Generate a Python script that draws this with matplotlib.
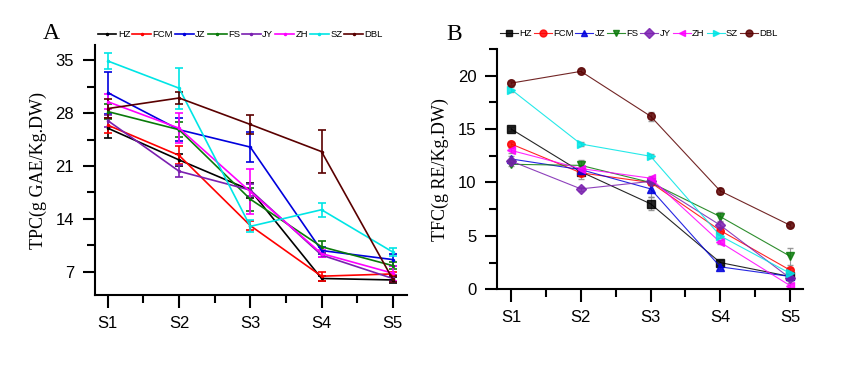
import matplotlib
matplotlib.use("Agg")
import matplotlib.pyplot as plt
from matplotlib.lines import Line2D
import numpy as np

# stages and cultivars
stages = ["S1", "S2", "S3", "S4", "S5"]
names = ["HZ", "FCM", "JZ", "FS", "JY", "ZH", "SZ", "DBL"]
colors = ["#000000", "#ff0000", "#0000dd", "#0a7a0a", "#7a1fb0", "#ff00ff", "#00e5e5", "#5a0000"]
markers_b = ["s", "o", "^", "v", "D", "<", ">", "o"]

# A: TPC (g GAE/Kg.DW)
tpc = {
    "HZ":  [26.0, 21.8, 17.8, 6.1, 5.9],
    "FCM": [26.4, 22.4, 13.1, 6.4, 6.7],
    "JZ":  [30.7, 25.8, 23.5, 9.8, 8.6],
    "FS":  [28.2, 25.8, 16.6, 10.3, 7.8],
    "JY":  [27.0, 20.3, 17.8, 9.2, 6.1],
    "ZH":  [29.5, 26.0, 17.6, 9.4, 6.8],
    "SZ":  [34.9, 31.3, 13.0, 15.2, 9.6],
    "DBL": [28.6, 30.0, 26.5, 22.9, 6.0],
}
tpc_err = {
    "HZ":  [1.3, 0.8, 1.0, 0.3, 0.4],
    "FCM": [1.0, 1.2, 0.6, 0.6, 0.3],
    "JZ":  [2.8, 1.5, 2.0, 0.5, 0.8],
    "FS":  [1.0, 1.0, 1.5, 0.8, 0.5],
    "JY":  [0.8, 0.8, 0.8, 0.3, 0.5],
    "ZH":  [1.0, 2.0, 3.0, 0.5, 1.0],
    "SZ":  [1.0, 2.7, 0.8, 0.9, 0.5],
    "DBL": [1.3, 0.8, 1.3, 2.8, 0.4],
}

# B: TFC (g RE/Kg.DW)
tfc = {
    "HZ":  [15.0, 11.0, 8.0, 2.5, 1.2],
    "FCM": [13.6, 10.9, 10.0, 5.5, 1.8],
    "JZ":  [12.2, 11.2, 9.4, 2.1, 1.2],
    "FS":  [11.7, 11.6, 10.0, 6.8, 3.1],
    "JY":  [12.0, 9.4, 10.1, 6.0, 1.05],
    "ZH":  [13.0, 11.3, 10.4, 4.4, 0.35],
    "SZ":  [18.7, 13.6, 12.45, 5.0, 1.5],
    "DBL": [19.3, 20.4, 16.2, 9.2, 6.0],
}
tfc_err = {
    "HZ":  [0.2, 0.3, 0.6, 0.2, 0.1],
    "FCM": [0.2, 0.6, 0.2, 0.3, 0.2],
    "JZ":  [0.3, 0.2, 0.8, 0.2, 0.1],
    "FS":  [0.2, 0.5, 0.2, 0.4, 0.8],
    "JY":  [0.2, 0.2, 0.2, 0.3, 0.2],
    "ZH":  [0.2, 0.2, 0.2, 0.2, 0.2],
    "SZ":  [0.2, 0.2, 0.2, 0.2, 0.2],
    "DBL": [0.2, 0.2, 0.4, 0.3, 0.2],
}

x = np.arange(1, 6)

fig = plt.figure(figsize=(8.5, 3.67), dpi=100)
axA = fig.add_axes([0.1118, 0.196, 0.367, 0.681])
axB = fig.add_axes([0.585, 0.2117, 0.36, 0.655])


def style(ax):
    for s in ["top", "right"]:
        ax.spines[s].set_visible(False)
    for s in ["left", "bottom"]:
        ax.spines[s].set_linewidth(1.5)
    ax.set_xticks(x)
    ax.set_xticklabels(stages)
    ax.set_xticks(x[:-1] + 0.5, minor=True)
    ax.tick_params(which="major", direction="out", length=9, width=1.5,
                   labelsize=12, pad=6)
    ax.tick_params(which="minor", direction="out", length=5.5, width=1.5)
    for lab in ax.get_xticklabels() + ax.get_yticklabels():
        lab.set_family("Liberation Sans")


handlesA = []
for n, c in zip(names, colors):
    axA.errorbar(x, tpc[n], yerr=tpc_err[n], color=c, lw=1.2, marker="o",
                 ms=1.5, capsize=3, elinewidth=1.2, capthick=1.2)
    handlesA.append(Line2D([], [], color=c, lw=1.2, marker="o", ms=1.5, label=n))
axA.set_xlim(0.82, 5.2)
axA.set_ylim(3.9, 37)
axA.set_yticks([7, 14, 21, 28, 35])
axA.set_yticks([10.5, 17.5, 24.5, 31.5], minor=True)
style(axA)
axA.set_ylabel("TPC(g GAE/Kg.DW)", family="Liberation Serif", fontsize=13, labelpad=6)
axA.legend(handles=handlesA, ncol=8, loc="lower left", bbox_to_anchor=(-0.01, 1.0),
           frameon=False, handlelength=2.0, handletextpad=0.15, columnspacing=0.2,
           borderaxespad=0.2, prop={"family": "Liberation Sans", "size": 6.8})
fig.text(0.05, 0.91, "A", family="Liberation Serif", fontsize=17, va="center")

handlesB = []
for n, c, m in zip(names, colors, markers_b):
    axB.errorbar(x, tfc[n], yerr=tfc_err[n], color=c, lw=0.8, marker=m,
                 ms=5.5, capsize=2, elinewidth=0.8, ecolor="#888888", alpha=0.85)
    handlesB.append(Line2D([], [], color=c, lw=0.8, marker=m, ms=5, alpha=0.85, label=n))
axB.set_xlim(0.8, 5.19)
axB.set_ylim(0, 22.5)
axB.set_yticks([0, 5, 10, 15, 20])
axB.set_yticks([2.5, 7.5, 12.5, 17.5, 22.5], minor=True)
style(axB)
axB.set_ylabel("TFC(g RE/Kg.DW)", family="Liberation Serif", fontsize=13, labelpad=6)
axB.legend(handles=handlesB, ncol=8, loc="lower left", bbox_to_anchor=(-0.01, 1.02),
           frameon=False, handlelength=1.9, handletextpad=0.15, columnspacing=0.2,
           borderaxespad=0.2, prop={"family": "Liberation Sans", "size": 6.8})
fig.text(0.525, 0.905, "B", family="Liberation Serif", fontsize=17, va="center")

fig.savefig("out.png", dpi=100)
